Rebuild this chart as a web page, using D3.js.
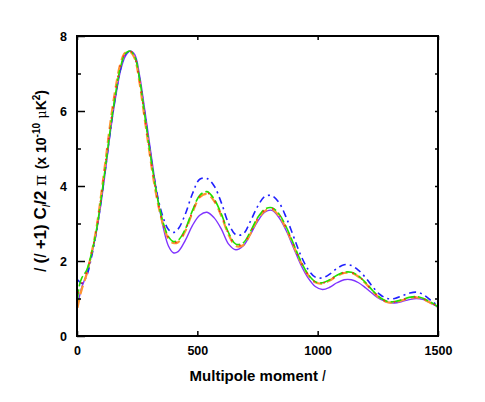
<!DOCTYPE html>
<html>
<head>
<meta charset="utf-8">
<script src="https://cdn.jsdelivr.net/npm/d3@7"></script>
<style>
  body { margin: 0; background: #fff; }
  svg { display: block; font-family: "Liberation Sans", Arial, sans-serif; }
  .tick-label { font-size: 12.5px; font-weight: bold; }
</style>
</head>
<body>
<svg width="485" height="402"></svg>
<script>
// multipole values shared by all curves
var ell = [2, 10, 20, 40, 60, 80, 100, 120, 140, 160, 180, 200, 220, 240, 260, 280, 300, 320, 340, 360, 380, 400,
  420, 450, 480, 510, 540, 570, 600, 630, 660, 690, 720, 750, 780, 810, 840, 870, 900, 930, 960, 990,
  1020, 1050, 1080, 1110, 1140, 1170, 1200, 1230, 1260, 1290, 1320, 1350, 1380, 1410, 1440, 1470, 1500];

var purple = [0.85, 1.05, 1.3, 1.65, 2.15, 2.75, 3.55, 4.5, 5.5, 6.35, 7.05, 7.45, 7.6, 7.5, 6.95, 6.1, 5.2, 4.3, 3.5, 2.85, 2.4, 2.22,
  2.25, 2.55, 2.95, 3.22, 3.3, 3.15, 2.85, 2.45, 2.3, 2.4, 2.7, 3.05, 3.3, 3.35, 3.15, 2.8, 2.35, 1.9, 1.55, 1.32,
  1.24, 1.3, 1.42, 1.5, 1.5, 1.42, 1.28, 1.12, 0.98, 0.9, 0.88, 0.92, 0.97, 1.0, 0.97, 0.88, 0.77];

var blue = [1.5, 1.45, 1.4, 1.6, 2.1, 2.75, 3.6, 4.55, 5.55, 6.4, 7.1, 7.5, 7.6, 7.45, 6.85, 6.0, 5.1, 4.25, 3.58, 3.12, 2.84, 2.76,
  2.85, 3.25, 3.8, 4.18, 4.2, 4.0, 3.55, 3.0, 2.7, 2.72, 3.05, 3.45, 3.72, 3.74, 3.55, 3.15, 2.65, 2.15, 1.78, 1.57,
  1.55, 1.65, 1.8, 1.9, 1.88, 1.75, 1.55, 1.3, 1.1, 1.0, 1.0, 1.07, 1.14, 1.17, 1.1, 0.95, 0.8];

var orange = [0.75, 1.0, 1.25, 1.65, 2.2, 2.85, 3.75, 4.75, 5.75, 6.6, 7.25, 7.55, 7.58, 7.4, 6.75, 5.85, 4.95, 4.1, 3.42, 2.92, 2.6, 2.48,
  2.5, 2.8, 3.3, 3.7, 3.79, 3.6, 3.2, 2.7, 2.4, 2.42, 2.72, 3.1, 3.33, 3.38, 3.2, 2.85, 2.4, 1.97, 1.63, 1.43,
  1.4, 1.48, 1.6, 1.68, 1.68, 1.58, 1.4, 1.18, 1.0, 0.9, 0.9, 0.95, 1.01, 1.03, 0.98, 0.88, 0.77];

var green = [0.95, 1.35, 1.55, 1.75, 2.2, 2.8, 3.65, 4.6, 5.6, 6.45, 7.15, 7.52, 7.6, 7.45, 6.85, 5.95, 5.05, 4.2, 3.5, 2.98, 2.65, 2.52,
  2.55, 2.85, 3.35, 3.75, 3.85, 3.65, 3.25, 2.75, 2.45, 2.48, 2.78, 3.15, 3.38, 3.42, 3.25, 2.9, 2.45, 2.0, 1.65, 1.45,
  1.42, 1.5, 1.62, 1.7, 1.7, 1.6, 1.42, 1.2, 1.02, 0.92, 0.92, 0.97, 1.03, 1.05, 1.0, 0.9, 0.78];

var red = [1.15, 1.2, 1.4, 1.7, 2.2, 2.82, 3.7, 4.68, 5.68, 6.52, 7.2, 7.53, 7.6, 7.42, 6.8, 5.9, 5.0, 4.15, 3.46, 2.95, 2.62, 2.5,
  2.52, 2.82, 3.32, 3.72, 3.82, 3.62, 3.22, 2.72, 2.42, 2.45, 2.75, 3.12, 3.35, 3.4, 3.22, 2.88, 2.42, 1.98, 1.64, 1.44,
  1.41, 1.49, 1.61, 1.69, 1.69, 1.59, 1.41, 1.19, 1.01, 0.91, 0.91, 0.96, 1.02, 1.04, 0.99, 0.89, 0.77];

var xTicks = [0, 500, 1000, 1500];
var yTicks = [0, 2, 4, 6, 8];

var svg = d3.select("svg");
var pLeft = 77, pRight = 438, pTop = 36, pBottom = 336;

var x = d3.scaleLinear().domain([0, 1500]).range([pLeft, pRight]);
var y = d3.scaleLinear().domain([0, 8]).range([pBottom, pTop]);

var series = [
  {vals: purple, color: "#8033ff", dash: null, w: 1.4},
  {vals: blue, color: "#2020ff", dash: "7,4,2,4", w: 1.6},
  {vals: orange, color: "#ff9430", dash: "9,5", w: 2.2},
  {vals: green, color: "#22e000", dash: "11,3", w: 1.6},
  {vals: red, color: "#ff2020", dash: "1.5,9", w: 1.6}
];

var line = d3.line()
  .x(function(d) { return x(d[0]); })
  .y(function(d) { return y(d[1]); })
  .curve(d3.curveCatmullRom);

svg.append("g")
  .selectAll("path")
  .data(series)
  .enter().append("path")
  .attr("d", function(s) { return line(ell.map(function(l, i) { return [l, s.vals[i]]; })); })
  .attr("fill", "none")
  .attr("stroke", function(s) { return s.color; })
  .attr("stroke-width", function(s) { return s.w; })
  .attr("stroke-dasharray", function(s) { return s.dash; });

// axes (ticks point inward, on all four sides)
svg.append("g").attr("transform", "translate(0," + pBottom + ")")
  .call(d3.axisBottom(x).tickValues(xTicks).tickSize(-5).tickPadding(10).tickFormat(d3.format("d")));
svg.append("g").attr("transform", "translate(0," + pTop + ")")
  .call(d3.axisTop(x).tickValues(xTicks).tickSize(-4).tickFormat(""));
svg.append("g").attr("transform", "translate(" + pLeft + ",0)")
  .call(d3.axisLeft(y).tickValues(yTicks).tickSize(-8).tickPadding(10).tickFormat(d3.format("d")));
svg.append("g").attr("transform", "translate(" + pLeft + ",0)")
  .call(d3.axisLeft(y).tickValues([1, 3, 5, 7]).tickSize(-4).tickFormat(""));
svg.append("g").attr("transform", "translate(" + pRight + ",0)")
  .call(d3.axisRight(y).tickValues([1, 2, 3, 4, 5, 6, 7]).tickSize(-3).tickFormat(""));

svg.selectAll(".domain").remove();
svg.selectAll(".tick line").attr("stroke", "#000").attr("stroke-width", 1.5);
svg.selectAll(".tick text").attr("class", "tick-label").attr("fill", "#000");

svg.append("rect")
  .attr("x", pLeft).attr("y", pTop)
  .attr("width", pRight - pLeft).attr("height", pBottom - pTop)
  .attr("fill", "none").attr("stroke", "#000").attr("stroke-width", 2);

// x title
var xt = svg.append("text")
  .attr("x", (pLeft + pRight) / 2).attr("y", 381)
  .attr("text-anchor", "middle")
  .style("font-size", "15px").style("font-weight", "bold");
xt.append("tspan").text("Multipole moment ");
xt.append("tspan").style("font-style", "italic").style("font-weight", "normal").text("l");

// y title
var yt = svg.append("text")
  .attr("transform", "translate(46," + 181 + ") rotate(-90)")
  .attr("text-anchor", "middle")
  .style("font-size", "17px").style("font-weight", "bold");
yt.append("tspan").style("font-style", "italic").style("font-weight", "normal").text("l");
yt.append("tspan").text(" (");
yt.append("tspan").style("font-style", "italic").style("font-weight", "normal").text("l");
yt.append("tspan").text(" +1) C");
yt.append("tspan").attr("dy", 4).style("font-size", "11px").style("font-style", "italic").style("font-weight", "normal").text("l");
yt.append("tspan").attr("dy", -4).text("/2 ");
yt.append("tspan").style("font-family", "DejaVu Serif, serif").style("font-weight", "normal").text("\u03c0 ");
yt.append("tspan").style("font-size", "14px").text("(x 10");
yt.append("tspan").attr("dy", -6).style("font-size", "10px").text("-10");
yt.append("tspan").attr("dy", 6).style("font-size", "13px").style("font-family", "DejaVu Serif, serif").style("font-weight", "normal").text(" \u03bc");
yt.append("tspan").style("font-size", "14px").text("K");
yt.append("tspan").attr("dy", -6).style("font-size", "10px").text("2");
yt.append("tspan").attr("dy", 6).style("font-size", "14px").text(")");
</script>
</body>
</html>
